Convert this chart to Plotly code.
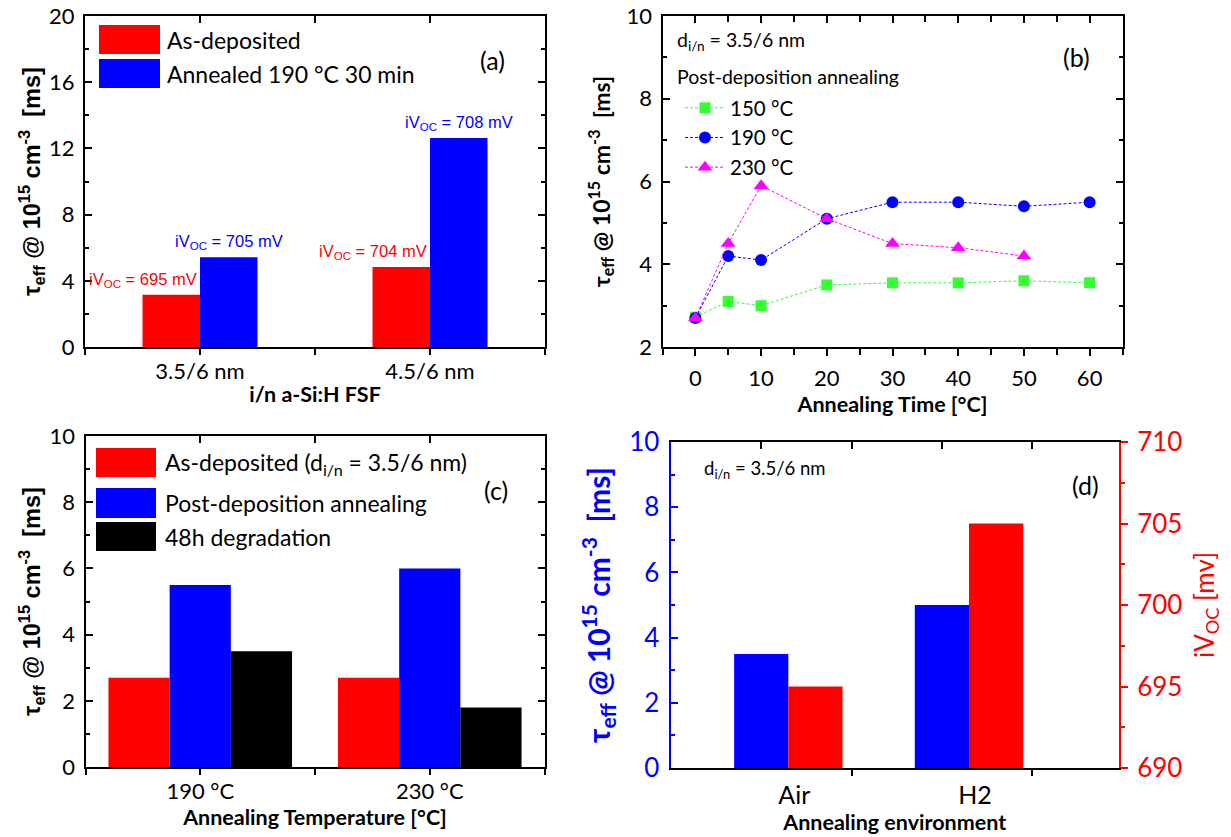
import plotly.graph_objects as go

# ---------------- data ----------------
# Panel (a)
a_categories = ["3.5/6 nm", "4.5/6 nm"]
a_as_deposited = [3.15, 4.83]
a_annealed = [5.42, 12.63]
a_ivoc_as = [695, 704]
a_ivoc_ann = [705, 708]

# Panel (b)
b_time = [0, 5, 10, 20, 30, 40, 50, 60]
b_150 = [2.72, 3.1, 3.0, 3.5, 3.55, 3.55, 3.6, 3.55]
b_190 = [2.7, 4.2, 4.1, 5.1, 5.5, 5.5, 5.4, 5.5]
b_230_time = [0, 5, 10, 20, 30, 40, 50]
b_230 = [2.7, 4.5, 5.9, 5.1, 4.5, 4.4, 4.2]
b_names = ["150 °C", "190 °C", "230 °C"]

# Panel (c)
c_categories = ["190 °C", "230 °C"]
c_as_deposited = [2.7, 2.7]
c_annealed = [5.5, 6.0]
c_degraded = [3.5, 1.8]

# Panel (d)
d_categories = ["Air", "H2"]
d_tau = [3.5, 5.0]
d_ivoc = [695, 705]

# ---------------- styling helpers ----------------
W, H = 1231, 837


def fx(p):
    return p / W


def fy(p):
    return 1 - p / H


FONT = "Lato, 'Open Sans', sans-serif"
ARIAL = "'Liberation Sans', Arial, sans-serif"
RED = "#ff0000"
BLUE = "#0000ff"
BLACK = "#000000"
GREEN = "#33ff33"
MAGENTA = "#ff00ff"
NB = "\u00a0"
TAU_TITLE = "<b>τ<sub>eff</sub> @ 10<sup>15</sup> cm<sup>-3</sup>" + NB + NB + "[ms]</b>"

A_X, A_Y = (85, 545), (16, 347)
B_X, B_Y = (662.5, 1122.5), (16, 347)
C_X, C_Y = (85.5, 544.5), (436, 767)
D_X, D_Y = (670.5, 1119), (442, 768)

TICK_SIZE = 22
XTITLE_SIZE = 21.5


def ydom(py):
    return [fy(py[1]), fy(py[0])]


def xdom(px):
    return [fx(px[0]), fx(px[1])]


def y_axis(py, rng, dtick, minor, title, title_font, color=BLACK, mirror="ticks",
           standoff=4, tickfont_size=TICK_SIZE, anchor="x"):
    return dict(
        domain=ydom(py), range=rng, anchor=anchor, tick0=rng[0], dtick=dtick,
        showline=True, linewidth=2, linecolor=color, mirror=mirror,
        ticks="inside", ticklen=7, tickwidth=1.5, tickcolor=color,
        minor=dict(dtick=minor, ticks="inside", ticklen=4, tickwidth=1.5, tickcolor=color),
        showgrid=False, zeroline=False, automargin=False,
        tickfont=dict(family=FONT, size=tickfont_size, color=color),
        ticklabelstandoff=4,
        title=dict(text=title, font=title_font, standoff=standoff),
    )


def x_axis(px, rng, tickvals, ticktext, title, anchor, ticks="outside", minor=None,
           tickfont_size=TICK_SIZE, standoff=4, labelshift=0):
    d = dict(
        domain=xdom(px), range=rng, anchor=anchor, tickmode="array",
        tickvals=tickvals, ticktext=ticktext,
        showline=True, linewidth=2, linecolor=BLACK, mirror=False,
        ticks=ticks, ticklen=7, tickwidth=1.5, tickcolor=BLACK,
        showgrid=False, zeroline=False, automargin=False,
        tickfont=dict(family=FONT, size=tickfont_size, color=BLACK),
        ticklabelstandoff=4, ticklabelshift=labelshift,
        title=dict(text=title, font=dict(family=FONT, size=XTITLE_SIZE, color=BLACK),
                   standoff=standoff),
    )
    if minor:
        d["minor"] = minor
    return d


def tick_axis(base, anchor, rng, tickvals, side, ticks, minor=None):
    d = dict(
        overlaying=base, side=side, anchor=anchor, range=rng, tickmode="array",
        tickvals=tickvals, ticks=ticks, ticklen=7, tickwidth=1.5, tickcolor=BLACK,
        showticklabels=False, showline=(side == "top"), linewidth=2, linecolor=BLACK,
        showgrid=False, zeroline=False, automargin=False,
    )
    if minor:
        d["minor"] = minor
    return d


fig = go.Figure()


def anchor_trace(xa, ya):
    fig.add_scatter(x=[], y=[], xaxis=xa, yaxis=ya, showlegend=False, hoverinfo="skip")


# ---------------- panel (a) ----------------
a_pos = list(range(len(a_categories)))
fig.add_bar(x=a_pos, y=a_as_deposited, name="As-deposited", marker=dict(color=RED, line_width=0),
            offset=-0.25, width=0.25, xaxis="x", yaxis="y", showlegend=False)
fig.add_bar(x=a_pos, y=a_annealed, name="Annealed 190 °C 30 min",
            marker=dict(color=BLUE, line_width=0),
            offset=0.0, width=0.25, xaxis="x", yaxis="y", showlegend=False)
anchor_trace("x5", "y")
anchor_trace("x10", "y")

annotations = []
for i, v in enumerate(a_ivoc_as):
    annotations.append(dict(x=a_pos[i], y=a_as_deposited[i], xref="x", yref="y",
                            text=f"iV<sub>OC</sub> = {v} mV", showarrow=False,
                            xanchor="right", yanchor="bottom", yshift=3, xshift=-1,
                            font=dict(family=ARIAL, size=16.5, color=RED)))
for i, v in enumerate(a_ivoc_ann):
    annotations.append(dict(x=a_pos[i] + 0.125, y=a_annealed[i], xref="x", yref="y",
                            text=f"iV<sub>OC</sub> = {v} mV", showarrow=False,
                            xanchor="center", yanchor="bottom", yshift=3,
                            font=dict(family=ARIAL, size=16.5, color=BLUE)))

# ---------------- panel (b) ----------------
b_series = [(b_time, b_150, GREEN, "square", 11),
            (b_time, b_190, BLUE, "circle", 12),
            (b_230_time, b_230, MAGENTA, "triangle-up", 13)]
for (xs, ys, col, sym, sz), nm in zip(b_series, b_names):
    fig.add_scatter(x=xs, y=ys, name=nm, mode="lines+markers", xaxis="x2", yaxis="y2",
                    line=dict(color=col, width=1, dash="3px,2px"),
                    marker=dict(color=col, symbol=sym, size=sz), showlegend=True)
anchor_trace("x6", "y2")

# ---------------- panel (c) ----------------
c_pos = list(range(len(c_categories)))
bw = 0.8 / 3
fig.add_bar(x=c_pos, y=c_as_deposited, name="As-deposited (d<sub>i/n</sub> = 3.5/6 nm)",
            marker=dict(color=RED, line_width=0), offset=-0.4, width=bw,
            xaxis="x3", yaxis="y3", showlegend=False)
fig.add_bar(x=c_pos, y=c_annealed, name="Post-deposition annealing",
            marker=dict(color=BLUE, line_width=0), offset=-0.4 + bw, width=bw,
            xaxis="x3", yaxis="y3", showlegend=False)
fig.add_bar(x=c_pos, y=c_degraded, name="48h degradation",
            marker=dict(color=BLACK, line_width=0), offset=-0.4 + 2 * bw, width=bw,
            xaxis="x3", yaxis="y3", showlegend=False)
anchor_trace("x7", "y3")
anchor_trace("x11", "y3")

# ---------------- panel (d) ----------------
d_pos = list(range(len(d_categories)))
fig.add_bar(x=d_pos, y=d_tau, name="τ_eff", marker=dict(color=BLUE, line_width=0),
            offset=-0.3, width=0.3, xaxis="x4", yaxis="y4", showlegend=False)
fig.add_bar(x=d_pos, y=d_ivoc, name="iV_OC", marker=dict(color=RED, line_width=0),
            offset=0.0, width=0.3, xaxis="x4", yaxis="y5", showlegend=False)
anchor_trace("x8", "y4")
anchor_trace("x9", "y4")

# ---------------- axes ----------------
cat_rng = [-0.5, 1.5]
cat_ticks = [-0.5, 0, 0.5, 1, 1.5]
d_rng = [-0.652, 1.83]

title_font_arial = dict(family=ARIAL, size=23.5, color=BLACK)
title_font_lato = dict(family=FONT, size=23, color=BLACK)

layout_axes = dict(
    xaxis=x_axis(A_X, cat_rng, a_pos, a_categories, "<b>i/n a-Si:H FSF</b>", "y", ticks=""),
    xaxis10=tick_axis("x", "y", cat_rng, cat_ticks, "bottom", "outside"),
    yaxis=y_axis(A_Y, [0, 20], 4, 2, TAU_TITLE, title_font_arial, anchor="x", standoff=2),
    xaxis5=tick_axis("x", "y", cat_rng, cat_ticks, "top", "inside"),

    xaxis2=x_axis(B_X, [-5, 65], list(range(0, 61, 10)), [str(v) for v in range(0, 61, 10)],
                  "<b>Annealing Time [°C]</b>", "y2",
                  minor=dict(dtick=5, tick0=0, ticks="outside", ticklen=6, tickwidth=1.5,
                             tickcolor=BLACK)),
    yaxis2=y_axis(B_Y, [2, 10], 2, 1, TAU_TITLE, title_font_lato, anchor="x2", standoff=10),
    xaxis6=tick_axis("x2", "y2", [-5, 65], list(range(0, 61, 10)), "top", "inside",
                     minor=dict(dtick=5, tick0=0, ticks="inside", ticklen=6, tickwidth=1.5,
                                tickcolor=BLACK)),

    xaxis3=x_axis(C_X, cat_rng, c_pos, c_categories, "<b>Annealing Temperature [°C]</b>",
                  "y3", ticks=""),
    xaxis11=tick_axis("x3", "y3", cat_rng, cat_ticks, "bottom", "outside"),
    yaxis3=y_axis(C_Y, [0, 10], 2, 1, TAU_TITLE, title_font_arial, anchor="x3", standoff=2),
    xaxis7=tick_axis("x3", "y3", cat_rng, cat_ticks, "top", "inside"),

    xaxis4=x_axis(D_X, d_rng, d_pos, d_categories, "<b>Annealing environment</b>", "y4",
                  ticks="", tickfont_size=25, standoff=2, labelshift=6),
    xaxis9=tick_axis("x4", "y4", d_rng, [0.35, 1.35], "bottom", "outside"),
    xaxis8=tick_axis("x4", "y4", d_rng, [-0.15, 0.35, 0.85, 1.35], "top", "inside"),
    yaxis4=y_axis(D_Y, [0, 10], 2, 1, TAU_TITLE, dict(family=FONT, size=30, color=BLUE),
                  color=BLUE, mirror=False, tickfont_size=26, anchor="x4", standoff=10),
    yaxis5=dict(overlaying="y4", side="right", anchor="x4", range=[690, 710], tick0=690,
                dtick=5, showline=True, linewidth=2, linecolor=RED, ticks="outside",
                ticklen=7, tickwidth=1.5, tickcolor=RED,
                minor=dict(dtick=2.5, ticks="outside", ticklen=4, tickwidth=1.5, tickcolor=RED),
                showgrid=False, zeroline=False, automargin=False,
                tickfont=dict(family=FONT, size=26, color=RED), ticklabelstandoff=4,
                title=dict(text="iV<sub>OC</sub> [mv]",
                           font=dict(family=FONT, size=26, color=RED), standoff=14)),
)

# ---------------- legend boxes and labels ----------------
shapes = []


def legend_box(x0, x1, y0, y1, color):
    shapes.append(dict(type="rect", xref="paper", yref="paper", x0=fx(x0), x1=fx(x1),
                       y0=fy(y1), y1=fy(y0), fillcolor=color, line=dict(width=0)))


def label(x, y, text, size=23, color=BLACK, xanchor="left", family=FONT):
    annotations.append(dict(x=fx(x), y=fy(y), xref="paper", yref="paper", text=text,
                            showarrow=False, xanchor=xanchor, yanchor="middle",
                            font=dict(family=family, size=size, color=color)))


# (a) legend
legend_box(99, 160, 25, 54, RED)
legend_box(99, 160, 59, 88, BLUE)
label(165, 40, "As-deposited", 23)
label(165, 74, "Annealed 190 °C 30 min", 23)
label(492, 60, "(a)", 25, xanchor="center")

# (b) texts
label(675, 41, "d<sub>i/n</sub> = 3.5/6 nm", 19.5)
label(675, 77, "Post-deposition annealing", 19.5)
label(1076, 57, "(b)", 25, xanchor="center")

# (c) legend
legend_box(96, 156, 448, 477, RED)
legend_box(96, 156, 488, 518, BLUE)
legend_box(96, 156, 522, 551, BLACK)
label(163, 463, "As-deposited (d<sub>i/n</sub> = 3.5/6 nm)", 23)
label(163, 503, "Post-deposition annealing", 23)
label(163, 537, "48h degradation", 23)
label(496, 490, "(c)", 25, xanchor="center")

# (d) texts
label(702, 469, "d<sub>i/n</sub> = 3.5/6 nm", 18.5)
label(1085, 485, "(d)", 25, xanchor="center")

fig.update_layout(
    width=W, height=H, autosize=False,
    margin=dict(l=0, r=0, t=0, b=0, pad=0),
    paper_bgcolor="white", plot_bgcolor="white",
    barmode="overlay",
    font=dict(family=FONT, size=20, color=BLACK),
    showlegend=True,
    legend=dict(x=fx(680), y=fy(88), xanchor="left", yanchor="top",
                bgcolor="rgba(0,0,0,0)", font=dict(family=FONT, size=20.5, color=BLACK),
                itemwidth=40, tracegroupgap=0),
    annotations=annotations,
    shapes=shapes,
    **layout_axes,
)

fig.write_html("out.html")
